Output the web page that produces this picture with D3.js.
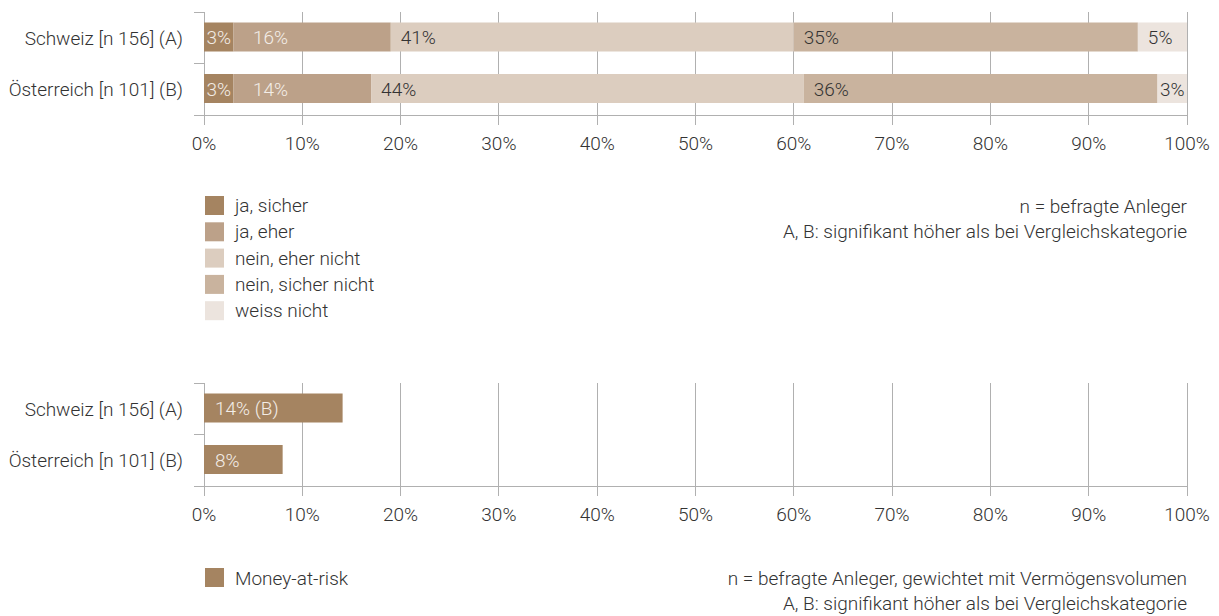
<!DOCTYPE html>
<html><head><meta charset="utf-8">
<script src="https://cdn.jsdelivr.net/npm/d3@7"></script>
<style>
body{margin:0;background:#fff;}
text{font-family:Roboto,"Liberation Sans",sans-serif;font-weight:300;}
</style></head>
<body><svg id="c" width="1219" height="616"></svg>
<script>
const categories = ["Schweiz [n 156] (A)", "Österreich [n 101] (B)"];
const seriesNames = ["ja, sicher", "ja, eher", "nein, eher nicht", "nein, sicher nicht", "weiss nicht"];
const jaSicher = [3, 3];
const jaEher = [16, 14];
const neinEherNicht = [41, 44];
const neinSicherNicht = [35, 36];
const weissNicht = [5, 3];
const seriesColors = ["#a58461", "#bca189", "#dccdbf", "#c9b39e", "#ece4de"];
const seriesTextColors = ["#f3ede7", "#f3ede7", "#333333", "#333333", "#333333"];
const moneyAtRisk = [14.1, 8];
const moneyAtRiskLabels = ["14% (B)", "8%"];
const moneyName = ["Money-at-risk"];
const tickValues = [0, 10, 20, 30, 40, 50, 60, 70, 80, 90, 100];
const notesTop = ["n = befragte Anleger", "A, B: signifikant höher als bei Vergleichskategorie"];
const notesBottom = ["n = befragte Anleger, gewichtet mit Vermögensvolumen", "A, B: signifikant höher als bei Vergleichskategorie"];

const svg = d3.select("#c");
const FS = 19;
const gridColor = "#b0b0b0";
const textColor = "#333";
const x = d3.scaleLinear().domain([0, 100]).range([204, 1187]);

function measure(t){
  const tmp = svg.append("text").attr("font-size", FS).text(t);
  const w = tmp.node().getComputedTextLength(); tmp.remove(); return w;
}

function frame(top, bottom){
  const y = d3.scaleBand().domain(categories).range([top, bottom]).padding(0);
  const g = svg.append("g");
  g.selectAll("line.grid").data(tickValues).enter().append("line")
    .attr("x1", d => x(d)).attr("x2", d => x(d))
    .attr("y1", top).attr("y2", bottom + 10)
    .attr("stroke", gridColor).attr("stroke-width", 1).attr("shape-rendering","crispEdges");
  g.append("line").attr("x1", x(0) - 10).attr("x2", x(100)).attr("y1", bottom).attr("y2", bottom)
    .attr("stroke", gridColor).attr("shape-rendering","crispEdges");
  const seps = [top].concat(categories.map(c => y(c) + y.bandwidth()));
  g.selectAll("line.sep").data(seps.slice(0, -1)).enter().append("line")
    .attr("x1", x(0) - 10).attr("x2", x(0)).attr("y1", d => d).attr("y2", d => d)
    .attr("stroke", gridColor).attr("shape-rendering","crispEdges");
  g.selectAll("text.cat").data(categories).enter().append("text")
    .attr("x", 183).attr("y", d => y(d) + 10.5 + 14.5 + 7.5)
    .attr("text-anchor", "end").attr("font-size", FS).attr("fill", textColor).text(d => d);
  g.selectAll("text.tick").data(tickValues).enter().append("text")
    .attr("x", d => x(d)).attr("y", bottom + 35)
    .attr("text-anchor", "middle").attr("font-size", FS).attr("fill", textColor).text(d => d + "%");
  return y;
}

// ---- chart 1 ----
const y1 = frame(12, 115);
const table = categories.map((c, i) => {
  const row = {cat: c};
  [jaSicher, jaEher, neinEherNicht, neinSicherNicht, weissNicht].forEach((arr, k) => row[seriesNames[k]] = arr[i]);
  return row;
});
const stacked = d3.stack().keys(seriesNames)(table);
const barG = svg.append("g");
stacked.forEach((layer, k) => {
  layer.forEach((seg, i) => {
    const cat = categories[i];
    const by = y1(cat) + 10.5;
    barG.append("rect").attr("x", x(seg[0])).attr("y", by)
      .attr("width", x(seg[1]) - x(seg[0])).attr("height", 29)
      .attr("fill", seriesColors[k]);
  });
});
categories.forEach((cat, i) => {
  let prevEnd = -Infinity;
  stacked.forEach((layer, k) => {
    const seg = layer[i];
    const v = seg[1] - seg[0];
    const t = Math.round(v) + "%";
    const tw = measure(t);
    const w = x(seg[1]) - x(seg[0]);
    let lx;
    if (w < tw + 20) lx = x(seg[0]) + Math.max(1, (w - tw) / 2);
    else lx = Math.max(x(seg[0]) + 10, prevEnd + 22);
    prevEnd = lx + tw;
    barG.append("text").attr("x", lx).attr("y", y1(cat) + 10.5 + 14.5 + 7)
      .attr("font-size", FS).attr("fill", seriesTextColors[k]).text(t);
  });
});

// legend 1
const lg = svg.append("g");
seriesNames.forEach((s, k) => {
  const sy = 196 + k * 26.3;
  lg.append("rect").attr("x", 205).attr("y", sy).attr("width", 19).attr("height", 19).attr("fill", seriesColors[k]);
  lg.append("text").attr("x", 235).attr("y", sy + 16).attr("font-size", FS).attr("fill", textColor).text(s);
});
notesTop.forEach((n, k) => {
  lg.append("text").attr("x", 1187).attr("y", 212.5 + k * 25.3).attr("text-anchor", "end")
    .attr("font-size", FS).attr("fill", textColor).text(n);
});

// ---- chart 2 ----
const y2 = frame(383, 486);
const g2 = svg.append("g");
categories.forEach((cat, i) => {
  const by = y2(cat) + 10.5;
  g2.append("rect").attr("x", x(0)).attr("y", by).attr("width", x(moneyAtRisk[i]) - x(0)).attr("height", 29)
    .attr("fill", seriesColors[0]);
  g2.append("text").attr("x", x(0) + 11).attr("y", by + 14.5 + 7).attr("font-size", FS)
    .attr("fill", seriesTextColors[0]).text(moneyAtRiskLabels[i]);
});
g2.append("rect").attr("x", 205).attr("y", 568).attr("width", 19).attr("height", 19).attr("fill", seriesColors[0]);
g2.append("text").attr("x", 235).attr("y", 584.5).attr("font-size", FS).attr("fill", textColor).text(moneyName[0]);
notesBottom.forEach((n, k) => {
  g2.append("text").attr("x", 1187).attr("y", 585 + k * 24.5).attr("text-anchor", "end")
    .attr("font-size", FS).attr("fill", textColor).text(n);
});
</script></body></html>
